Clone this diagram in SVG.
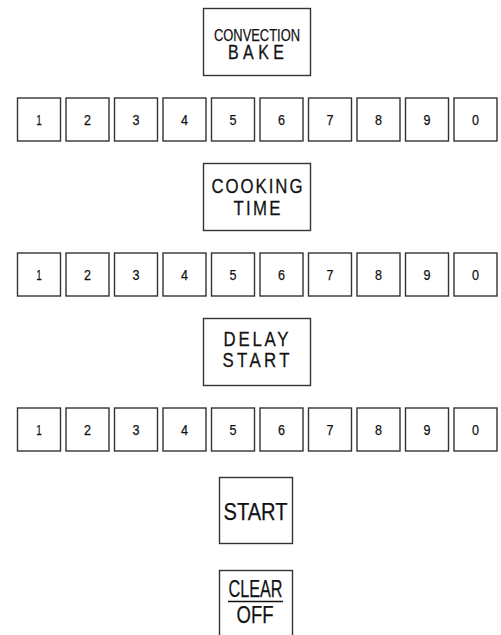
<svg xmlns="http://www.w3.org/2000/svg" width="501" height="635" viewBox="0 0 501 635">
<style>
.b{fill:#fff;stroke:#333;stroke-width:1.4}
.t{font-family:"Liberation Sans",Arial,sans-serif;fill:#111;stroke:#111;stroke-width:0.25;text-anchor:middle}
.d{font-size:14.5px}
</style>
<defs>
<g id="row">
<rect class="b" x="17.5" y="0.5" width="43" height="43"/>
<rect class="b" x="66" y="0.5" width="43" height="43"/>
<rect class="b" x="114.5" y="0.5" width="43" height="43"/>
<rect class="b" x="163" y="0.5" width="43" height="43"/>
<rect class="b" x="211.5" y="0.5" width="43" height="43"/>
<rect class="b" x="260" y="0.5" width="43" height="43"/>
<rect class="b" x="308.5" y="0.5" width="43" height="43"/>
<rect class="b" x="357" y="0.5" width="43" height="43"/>
<rect class="b" x="405.5" y="0.5" width="43" height="43"/>
<rect class="b" x="454" y="0.5" width="43" height="43"/>
<g class="t d">
<text x="39" y="27" textLength="5.5" lengthAdjust="spacingAndGlyphs">1</text>
<text x="87.5" y="27" textLength="7" lengthAdjust="spacingAndGlyphs">2</text>
<text x="136" y="27" textLength="7" lengthAdjust="spacingAndGlyphs">3</text>
<text x="184.5" y="27" textLength="7" lengthAdjust="spacingAndGlyphs">4</text>
<text x="233" y="27" textLength="7" lengthAdjust="spacingAndGlyphs">5</text>
<text x="281.5" y="27" textLength="7" lengthAdjust="spacingAndGlyphs">6</text>
<text x="330" y="27" textLength="7" lengthAdjust="spacingAndGlyphs">7</text>
<text x="378.5" y="27" textLength="7" lengthAdjust="spacingAndGlyphs">8</text>
<text x="427" y="27" textLength="7" lengthAdjust="spacingAndGlyphs">9</text>
<text x="475.5" y="27" textLength="7" lengthAdjust="spacingAndGlyphs">0</text>
</g>
</g>
</defs>
<g id="convection-bake">
<rect class="b" x="203.5" y="8.5" width="107" height="67"/>
<text class="t" x="257" y="41" font-size="16.5" textLength="86" lengthAdjust="spacingAndGlyphs">CONVECTION</text>
<text class="t" transform="scale(0.82 1)" x="312.2" y="59.5" font-size="19.5" textLength="68.3" lengthAdjust="spacing">BAKE</text>
</g>
<g id="keypad-1"><use href="#row" y="97.5"/></g>
<g id="cooking-time">
<rect class="b" x="203.5" y="163.5" width="107" height="67"/>
<text class="t" transform="scale(0.82 1)" x="313.4" y="193.5" font-size="20.5" textLength="111" lengthAdjust="spacing">COOKING</text>
<text class="t" transform="scale(0.82 1)" x="313.4" y="215" font-size="20.5" textLength="57.3" lengthAdjust="spacing">TIME</text>
</g>
<g id="keypad-2"><use href="#row" y="252.5"/></g>
<g id="delay-start">
<rect class="b" x="203.5" y="318.5" width="107" height="67"/>
<text class="t" transform="scale(0.82 1)" x="312.2" y="346.5" font-size="20.5" textLength="79.3" lengthAdjust="spacing">DELAY</text>
<text class="t" transform="scale(0.82 1)" x="312.2" y="367.5" font-size="20.5" textLength="81.7" lengthAdjust="spacing">START</text>
</g>
<g id="keypad-3"><use href="#row" y="407.5"/></g>
<g id="start">
<rect class="b" x="219.5" y="477.5" width="73" height="66"/>
<text class="t" x="255.5" y="519.5" font-size="23" textLength="64" lengthAdjust="spacingAndGlyphs">START</text>
</g>
<g id="clear-off">
<rect class="b" x="219.5" y="570.5" width="73" height="70"/>
<text class="t" x="255.5" y="597" font-size="23" textLength="54" lengthAdjust="spacingAndGlyphs">CLEAR</text>
<line x1="228" y1="601.5" x2="283" y2="601.5" stroke="#111" stroke-width="1.5"/>
<text class="t" x="255" y="623" font-size="23" textLength="37" lengthAdjust="spacingAndGlyphs">OFF</text>
</g>
</svg>
